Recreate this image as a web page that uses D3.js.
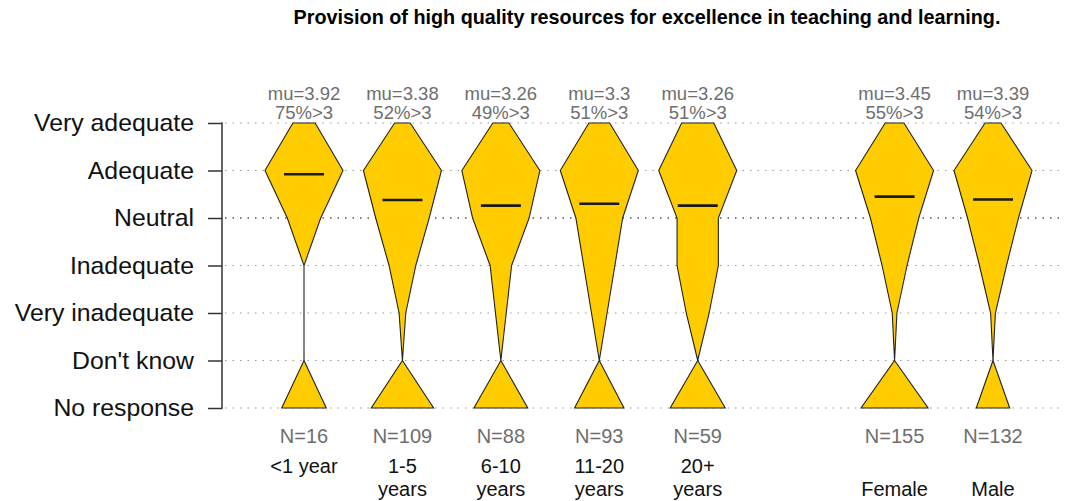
<!DOCTYPE html>
<html>
<head>
<meta charset="utf-8">
<script src="https://cdn.jsdelivr.net/npm/d3@7"></script>
<style>
  html, body { margin: 0; padding: 0; background: #fff; }
  svg { display: block; font-family: "Liberation Sans", Arial, sans-serif; }
</style>
</head>
<body>
<svg id="chart" width="1065" height="501"></svg>
<script>
// ---------- data ----------
const title = "Provision of high quality resources for excellence in teaching and learning.";
const levels = ["Very adequate", "Adequate", "Neutral", "Inadequate", "Very inadequate", "Don't know", "No response"];
const categories = ["<1 year", "1-5 years", "6-10 years", "11-20 years", "20+ years", "Female", "Male"];
const categoryLines = [["<1 year"], ["1-5", "years"], ["6-10", "years"], ["11-20", "years"], ["20+", "years"], ["", "Female"], ["", "Male"]];
// counts per level: Very adequate, Adequate, Neutral, Inadequate, Very inadequate, Don't know, No response
const countsLt1   = [2, 7, 3, 0, 0, 0, 4];
const counts1to5  = [7, 35, 24, 12, 3, 0, 28];
const counts6to10 = [6, 29, 21, 8, 4, 0, 20];
const counts11to20= [8, 30, 18, 12, 6, 0, 19];
const counts20p   = [7, 17, 9, 9, 5, 0, 12];
const countsFemale= [12, 50, 31, 16, 3, 0, 43];
const countsMale  = [10, 49, 32, 17, 3, 0, 21];
const meanValues  = [3.92, 3.38, 3.26, 3.3, 3.26, 3.45, 3.39];
const pctAbove3   = [75, 52, 49, 51, 51, 55, 54];
const nValues     = [16, 109, 88, 93, 59, 155, 132];
const spacer = "__gap__"; // empty slot between the two blocks of groups

const allCounts = [countsLt1, counts1to5, counts6to10, counts11to20, counts20p, countsFemale, countsMale];

// ---------- layout ----------
const svg = d3.select("#chart");
const fill = "#FFCC00";

const xDomain = categories.slice(0, 5).concat([spacer], categories.slice(5));
const x = d3.scalePoint().domain(xDomain).range([304, 993]);
const y = d3.scalePoint().domain(levels).range([123, 408]);
const yMean = d3.scaleLinear().domain([5, 1]).range([y("Very adequate"), y("Very inadequate")]);
const halfMax = 39;
const axisX = 222;
const grey = "#6e6e6e";

// title
svg.append("text")
  .attr("x", 647).attr("y", 24)
  .attr("text-anchor", "middle")
  .attr("font-weight", "bold")
  .attr("font-size", 19.8)
  .attr("fill", "#000")
  .text(title);

// grid lines
svg.append("g").selectAll("line").data(levels).join("line")
  .attr("x1", axisX + 3).attr("x2", 1065)
  .attr("y1", d => y(d)).attr("y2", d => y(d))
  .attr("stroke", d => d === "Neutral" ? "#555" : "#9a9a9a")
  .attr("stroke-width", d => d === "Neutral" ? 1.6 : 1.2)
  .attr("stroke-dasharray", "1.5,6");

// y axis
const yAxis = d3.axisLeft(y).tickSize(14).tickPadding(14);
const ag = svg.append("g").attr("transform", `translate(${axisX},0)`).call(yAxis);
ag.select(".domain").attr("d", `M-0.5,${y(levels[0])}H0V${y(levels[levels.length-1])}H-0.5`).attr("stroke", "#333").attr("stroke-width", 1.5);
ag.selectAll(".tick line").attr("stroke", "#333").attr("stroke-width", 1.5);
ag.selectAll(".tick text").attr("font-size", 24.8).attr("fill", "#111").attr("font-family", "Liberation Sans, Arial, sans-serif");

// top labels (mean and % > 3)
const topLabels = svg.append("g");
categories.forEach((c, i) => {
  topLabels.append("text").attr("x", x(c)).attr("y", 100).attr("text-anchor", "middle")
    .attr("font-size", 18.5).attr("fill", grey).text("mu=" + meanValues[i]);
  topLabels.append("text").attr("x", x(c)).attr("y", 119).attr("text-anchor", "middle")
    .attr("font-size", 18.5).attr("fill", grey).text(pctAbove3[i] + "%>3");
});

// violins
const mainLevels = levels.slice(0, 6);
const tailLevels = levels.slice(5, 7);
const outline = d3.line().x(d => d[0]).y(d => d[1]);

categories.forEach((c, i) => {
  const counts = allCounts[i];
  const w = d3.scaleLinear().domain([0, d3.max(counts)]).range([0, halfMax]);
  const cx = x(c);
  const g = svg.append("g");
  const shape = (lvls, offset) => {
    const right = lvls.map((l, k) => [cx + w(counts[offset + k]), y(l)]);
    const left = lvls.map((l, k) => [cx - w(counts[offset + k]), y(l)]).reverse();
    return outline(right.concat(left)) + "Z";
  };
  g.append("path").attr("d", shape(mainLevels, 0))
    .attr("fill", fill).attr("stroke", "#222").attr("stroke-width", 1.1).attr("stroke-linejoin", "miter");
  g.append("path").attr("d", shape(tailLevels, 5))
    .attr("fill", fill).attr("stroke", "#222").attr("stroke-width", 1.1);
  g.append("line")
    .attr("x1", cx - 20).attr("x2", cx + 20)
    .attr("y1", yMean(meanValues[i])).attr("y2", yMean(meanValues[i]))
    .attr("stroke", "#1a1a1a").attr("stroke-width", 2.6);
});

// N labels
svg.append("g").selectAll("text").data(categories).join("text")
  .attr("x", d => x(d)).attr("y", 443)
  .attr("text-anchor", "middle").attr("font-size", 20).attr("fill", grey)
  .text((d, i) => "N=" + nValues[i]);

// category labels
const cl = svg.append("g");
categories.forEach((c, i) => {
  categoryLines[i].forEach((line, k) => {
    cl.append("text").attr("x", x(c)).attr("y", 473 + k * 23)
      .attr("text-anchor", "middle").attr("font-size", 20).attr("fill", "#111")
      .text(line);
  });
});
</script>
</body>
</html>
